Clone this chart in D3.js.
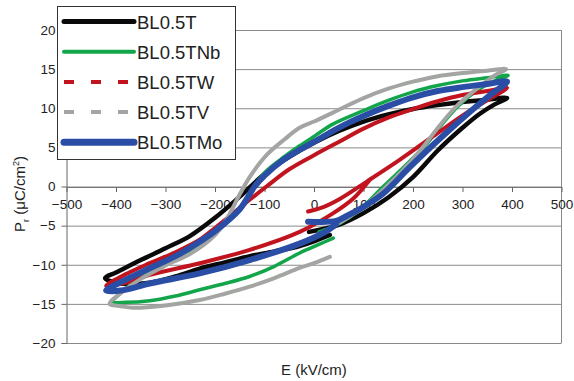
<!DOCTYPE html>
<html>
<head>
<meta charset="utf-8">
<script src="https://cdn.jsdelivr.net/npm/d3@7"></script>
<style>
  body { margin: 0; background: #fff; }
  svg text { font-family: "Liberation Sans", Arial, sans-serif; fill: #222; }
</style>
</head>
<body>
<div id="chart"></div>
<script>
// series names, legend order
const seriesNames = ["BL0.5T", "BL0.5TNb", "BL0.5TW", "BL0.5TV", "BL0.5TMo"];

// each loop: start near E=0 -> +Emax -> -Emax -> back towards E=0  [E (kV/cm), Pr (uC/cm2)]
const bl05T = [
  [-10,-5.8],[50,-4.9],[100,-3.4],[150,-1.4],[200,1.2],[250,4.6],[300,7.5],[335,9.3],[365,10.5],[390,11.3],
  [350,11.1],[300,10.8],[250,10.4],[200,9.9],[150,9.2],[100,8.3],[50,7.1],[0,5.6],[-50,3.8],[-100,1.6],
  [-150,-1.3],[-200,-4.0],[-250,-6.3],[-300,-7.9],[-350,-9.4],[-400,-11.0],[-422,-11.7],
  [-390,-12.4],[-332,-12.3],[-280,-11.5],[-231,-10.5],[-180,-9.7],[-130,-8.9],[-80,-8.3],[-29,-7.6],[0,-7.0],[32,-6.2]
];
const bl05TNb = [
  [10,-5.8],[50,-4.8],[92,-3.0],[140,0],[190,3.0],[227,5.4],[254,7.6],[290,10.2],[330,12.3],[365,13.5],[392,14.2],
  [350,13.9],[300,13.5],[250,12.9],[200,12.1],[150,11.0],[100,9.7],[39,8.0],[0,6.4],[-29,5.2],[-60,3.8],[-96,2.0],
  [-116,0.5],[-130,-0.8],[-150,-2.8],[-200,-6.0],[-250,-8.2],[-300,-9.8],[-350,-11.6],[-385,-13.3],[-406,-14.7],
  [-380,-14.8],[-332,-14.6],[-280,-14.0],[-231,-13.2],[-180,-12.4],[-130,-11.5],[-80,-10.2],[-29,-8.5],[10,-7.4],[39,-6.6]
];
const bl05TW = [
  [-12,-3.2],[20,-2.6],[52,-1.6],[106,0.6],[173,3.4],[240,6.4],[308,9.4],[360,11.4],[390,12.6],
  [350,12.2],[300,11.7],[250,10.9],[200,9.9],[150,8.8],[100,7.4],[50,5.7],[0,4.0],[-50,2.2],[-96,0],
  [-130,-1.7],[-163,-3.4],[-200,-5.3],[-231,-6.8],[-280,-8.4],[-332,-9.8],[-380,-11.2],[-420,-12.7],
  [-380,-12.3],[-332,-11.3],[-231,-9.8],[-130,-8.1],[-29,-5.8],[39,-3.4],[80,-1.5],[112,0.8]
];
const bl05TV = [
  [0,-6.6],[32,-5.4],[92,-3.0],[140,-0.4],[190,2.8],[227,5.6],[254,7.8],[290,10.4],[335,12.8],[365,14.2],[388,15.0],
  [350,14.8],[300,14.5],[250,14.1],[200,13.4],[150,12.5],[100,11.3],[50,9.8],[0,8.3],[-29,7.5],[-60,6.0],[-96,4.0],
  [-130,1.2],[-150,-1.0],[-175,-4.0],[-200,-6.2],[-250,-8.6],[-300,-10.1],[-350,-11.8],[-390,-13.6],[-413,-15.0],
  [-390,-15.3],[-366,-15.5],[-300,-15.2],[-231,-14.5],[-180,-13.7],[-130,-12.8],[-80,-11.7],[-29,-10.4],[0,-9.8],[32,-9.0]
];
const bl05TMo = [
  [-12,-4.5],[45,-4.4],[65,-3.8],[100,-2.6],[140,-0.9],[194,2.5],[254,6.1],[320,9.8],[360,11.9],[390,13.4],
  [350,13.1],[300,12.7],[250,12.2],[200,11.4],[150,10.3],[100,9.0],[50,7.5],[0,5.7],[-62,3.4],[-100,1.4],
  [-120,0],[-150,-2.9],[-200,-5.7],[-231,-7.05],[-280,-8.9],[-332,-10.45],[-380,-11.9],[-420,-13.3],
  [-390,-13.3],[-332,-12.4],[-231,-11.1],[-130,-9.4],[-29,-7.3],[20,-5.9],[45,-4.8]
];
const seriesData = [bl05T, bl05TNb, bl05TW, bl05TV, bl05TMo];

const xTicks = [-500,-400,-300,-200,-100,0,100,200,300,400,500];
const yTicks = [-20,-15,-10,-5,0,5,10,15,20];

// styles
const colors = ["#0a0a0a", "#12a54a", "#c1141f", "#a2a5a2", "#2a4ea6"];
const widths = [4.5, 3.5, 4, 4, 6];
const legendDash = [null, null, "10,17", "10,17", null];
const legendWidths = [5, 4, 4, 4, 7];

const w = 574, h = 381;
const svg = d3.select("#chart").append("svg").attr("width", w).attr("height", h);

const x = d3.scaleLinear().domain([-500, 500]).range([66.5, 561.5]);
const y = d3.scaleLinear().domain([-20, 20]).range([343, 30]);

// horizontal gridlines
svg.append("g").selectAll("line").data(yTicks).join("line")
  .attr("x1", x(-500)).attr("x2", x(500))
  .attr("y1", d => y(d) + 0.5).attr("y2", d => y(d) + 0.5)
  .attr("stroke", "#8a8a8a").attr("stroke-width", 1);

// right border
svg.append("line").attr("x1", x(500)).attr("x2", x(500)).attr("y1", y(20)).attr("y2", y(-20))
  .attr("stroke", "#8a8a8a");

// y axis
const yAxis = svg.append("g").attr("transform", `translate(${x(-500)},0)`)
  .call(d3.axisLeft(y).tickValues(yTicks).tickSize(5).tickPadding(6));
yAxis.select(".domain").attr("stroke", "#666");
yAxis.selectAll(".tick line").attr("stroke", "#666");
yAxis.selectAll("text").attr("font-size", 13.5).attr("fill", "#222")
  .attr("font-family", "Liberation Sans, Arial, sans-serif");

// x axis crossing at P=0
const xAxis = svg.append("g").attr("transform", `translate(0,${y(0) + 0.5})`)
  .call(d3.axisBottom(x).tickValues(xTicks).tickSize(5).tickPadding(7).tickSizeOuter(0));
xAxis.select(".domain").attr("stroke", "#777");
xAxis.selectAll(".tick line").attr("stroke", "#666");
xAxis.selectAll("text").attr("font-size", 13.5).attr("fill", "#222")
  .attr("font-family", "Liberation Sans, Arial, sans-serif");

// loops
const line = d3.line().x(d => x(d[0])).y(d => y(d[1])).curve(d3.curveCatmullRom.alpha(0.5));
svg.append("g").selectAll("path").data(seriesData).join("path")
  .attr("d", line)
  .attr("fill", "none")
  .attr("stroke", (d, i) => colors[i])
  .attr("stroke-width", (d, i) => widths[i])
  .attr("stroke-linejoin", "round")
  .attr("stroke-linecap", "round");

// axis titles
svg.append("text").attr("x", 281).attr("y", 375).attr("font-size", 15).text("E (kV/cm)");
const yt = svg.append("text").attr("transform", "translate(25,194) rotate(-90)")
  .attr("text-anchor", "middle").attr("font-size", 15);
yt.append("tspan").text("P");
yt.append("tspan").attr("font-size", 9).attr("dy", 4).text("r");
yt.append("tspan").attr("dy", -4).text(" (μC/cm");
yt.append("tspan").attr("font-size", 9).attr("dy", -6).text("2");
yt.append("tspan").attr("dy", 6).text(")");

// legend
const lg = svg.append("g");
lg.append("rect").attr("x", 57.5).attr("y", 6.5).attr("width", 178).attr("height", 153)
  .attr("fill", "#fff").attr("stroke", "#333").attr("stroke-width", 1);
const rows = lg.selectAll("g.row").data(seriesNames).join("g").attr("class", "row")
  .attr("transform", (d, i) => `translate(0,${21.5 + i * 30.2})`);
rows.append("line").attr("x1", 64).attr("x2", 134).attr("y1", 0).attr("y2", 0)
  .attr("stroke", (d, i) => colors[i])
  .attr("stroke-width", (d, i) => legendWidths[i])
  .attr("stroke-dasharray", (d, i) => legendDash[i])
  .attr("stroke-linecap", (d, i) => legendDash[i] ? "butt" : "round");
rows.append("text").attr("x", 137).attr("y", 7).attr("font-size", 18.5).text(d => d);
</script>
</body>
</html>
